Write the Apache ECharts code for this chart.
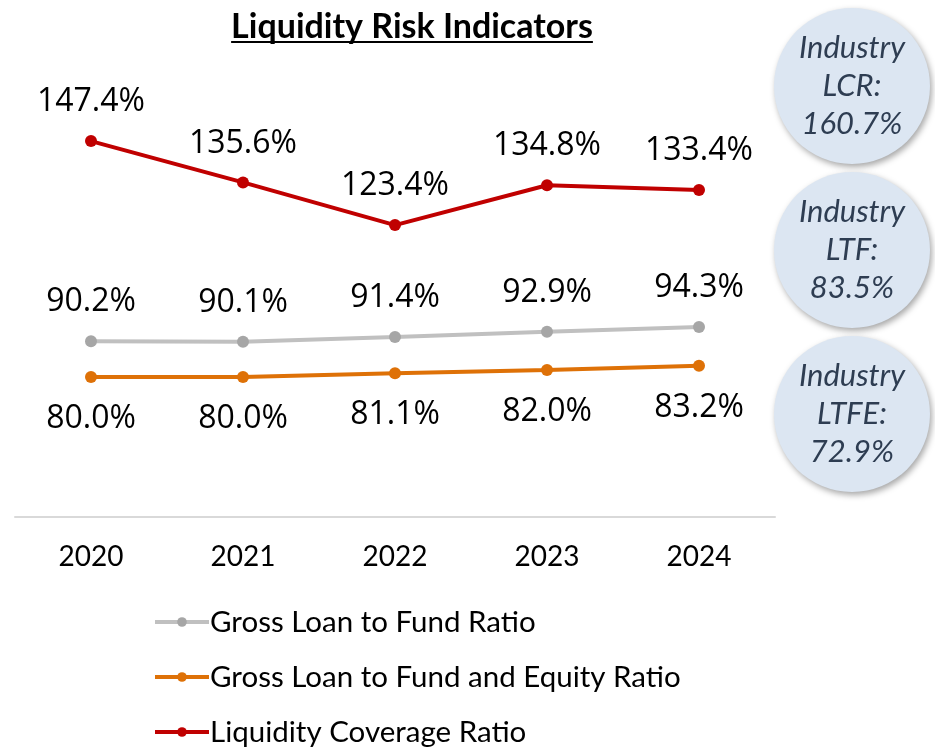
<!DOCTYPE html>
<html>
<head>
<meta charset="utf-8">
<title>Liquidity Risk Indicators</title>
<script src="https://cdn.jsdelivr.net/npm/echarts@6/dist/echarts.min.js"></script>
<style>
  html, body { margin: 0; padding: 0; background: #fff; }
  #chart { width: 935px; height: 749px; }
</style>
</head>
<body>
<div id="chart"></div>
<script>
// Years on the category axis
const years = ['2020', '2021', '2022', '2023', '2024'];

// Ratio series, in percent
const loanToFund = [90.2, 90.1, 91.4, 92.9, 94.3];
const loanToFundEquity = [80.0, 80.0, 81.1, 82.0, 83.2];
const liquidityCoverage = [147.4, 135.6, 123.4, 134.8, 133.4];

// Industry benchmarks shown in the side bubbles
const benchmarkNames = ['LCR:', 'LTF:', 'LTFE:'];
const benchmarkValues = ['160.7%', '83.5%', '72.9%'];

const FONT = 'Lato, "Open Sans", sans-serif';
const LABEL_FONT = '"Open Sans", "Noto Sans", sans-serif';
const chart = echarts.init(document.getElementById('chart'), null, { renderer: 'canvas' });

const titleText = 'Liquidity Risk Indicators';
const titleFont = 'bold 34px ' + FONT;
const measure = document.createElement('canvas').getContext('2d');
measure.font = titleFont;
const titleWidth = measure.measureText(titleText).width;
const titleCx = 412;

function pctLabel(pos, dist) {
  return {
    show: true,
    position: pos,
    distance: dist,
    fontFamily: LABEL_FONT,
    fontSize: 32,
    color: '#000',
    formatter: p => p.value.toFixed(1) + '%'
  };
}

// Side bubbles with industry figures
const bubbleCenters = [86, 250, 414];
const bubbles = benchmarkNames.map((name, i) => ({
  type: 'group',
  x: 852,
  y: bubbleCenters[i],
  children: [
    {
      type: 'circle',
      shape: { cx: 0, cy: 0, r: 78 },
      style: {
        fill: '#dce6f2',
        shadowBlur: 6,
        shadowOffsetX: 2,
        shadowOffsetY: 3,
        shadowColor: 'rgba(0,0,0,0.35)'
      }
    },
    {
      type: 'text',
      x: 0,
      y: 0,
      style: {
        text: 'Industry\n' + name + '\n' + benchmarkValues[i],
        fontFamily: FONT,
        fontStyle: 'italic',
        fontSize: 31,
        lineHeight: 38,
        fill: '#2e3d52',
        align: 'center',
        verticalAlign: 'middle'
      }
    }
  ]
}));

const option = {
  backgroundColor: '#fff',
  animation: false,
  grid: { left: 15, right: 160, top: 97, bottom: 232, containLabel: false },
  xAxis: {
    type: 'category',
    data: years,
    boundaryGap: true,
    axisLine: { show: true, lineStyle: { color: '#d9d9d9', width: 2 } },
    axisTick: { show: false },
    axisLabel: { fontFamily: FONT, fontSize: 28, color: '#000', margin: 26 }
  },
  yAxis: {
    type: 'value',
    min: 40,
    max: 160,
    show: false,
    splitLine: { show: false }
  },
  legend: {
    orient: 'vertical',
    left: 153,
    top: 607,
    padding: 0,
    itemWidth: 54,
    itemHeight: 12,
    itemGap: 25,
    lineStyle: { width: 4 },
    textStyle: { fontFamily: FONT, fontSize: 29.5, color: '#000', padding: [0, 0, 0, -4] },
    data: ['Gross Loan to Fund Ratio', 'Gross Loan to Fund and Equity Ratio', 'Liquidity Coverage Ratio']
  },
  graphic: [
    {
      type: 'text',
      x: titleCx,
      y: 27,
      style: {
        text: titleText,
        font: titleFont,
        fill: '#000',
        align: 'center',
        verticalAlign: 'middle'
      }
    },
    {
      type: 'line',
      shape: { x1: titleCx - titleWidth / 2, y1: 42, x2: titleCx + titleWidth / 2, y2: 42 },
      style: { stroke: '#000', lineWidth: 2 }
    },
    ...bubbles
  ],
  series: [
    {
      name: 'Gross Loan to Fund Ratio',
      type: 'line',
      data: loanToFund,
      symbol: 'circle',
      symbolSize: 12,
      lineStyle: { color: '#c0c0c0', width: 4 },
      itemStyle: { color: '#a6a6a6' },
      label: pctLabel('top', 17)
    },
    {
      name: 'Gross Loan to Fund and Equity Ratio',
      type: 'line',
      data: loanToFundEquity,
      symbol: 'circle',
      symbolSize: 12,
      lineStyle: { color: '#de7107', width: 4 },
      itemStyle: { color: '#de7107' },
      label: pctLabel('bottom', 20)
    },
    {
      name: 'Liquidity Coverage Ratio',
      type: 'line',
      data: liquidityCoverage,
      symbol: 'circle',
      symbolSize: 12,
      lineStyle: { color: '#c00000', width: 4 },
      itemStyle: { color: '#c00000' },
      label: pctLabel('top', 17)
    }
  ]
};

chart.setOption(option);
</script>
</body>
</html>
